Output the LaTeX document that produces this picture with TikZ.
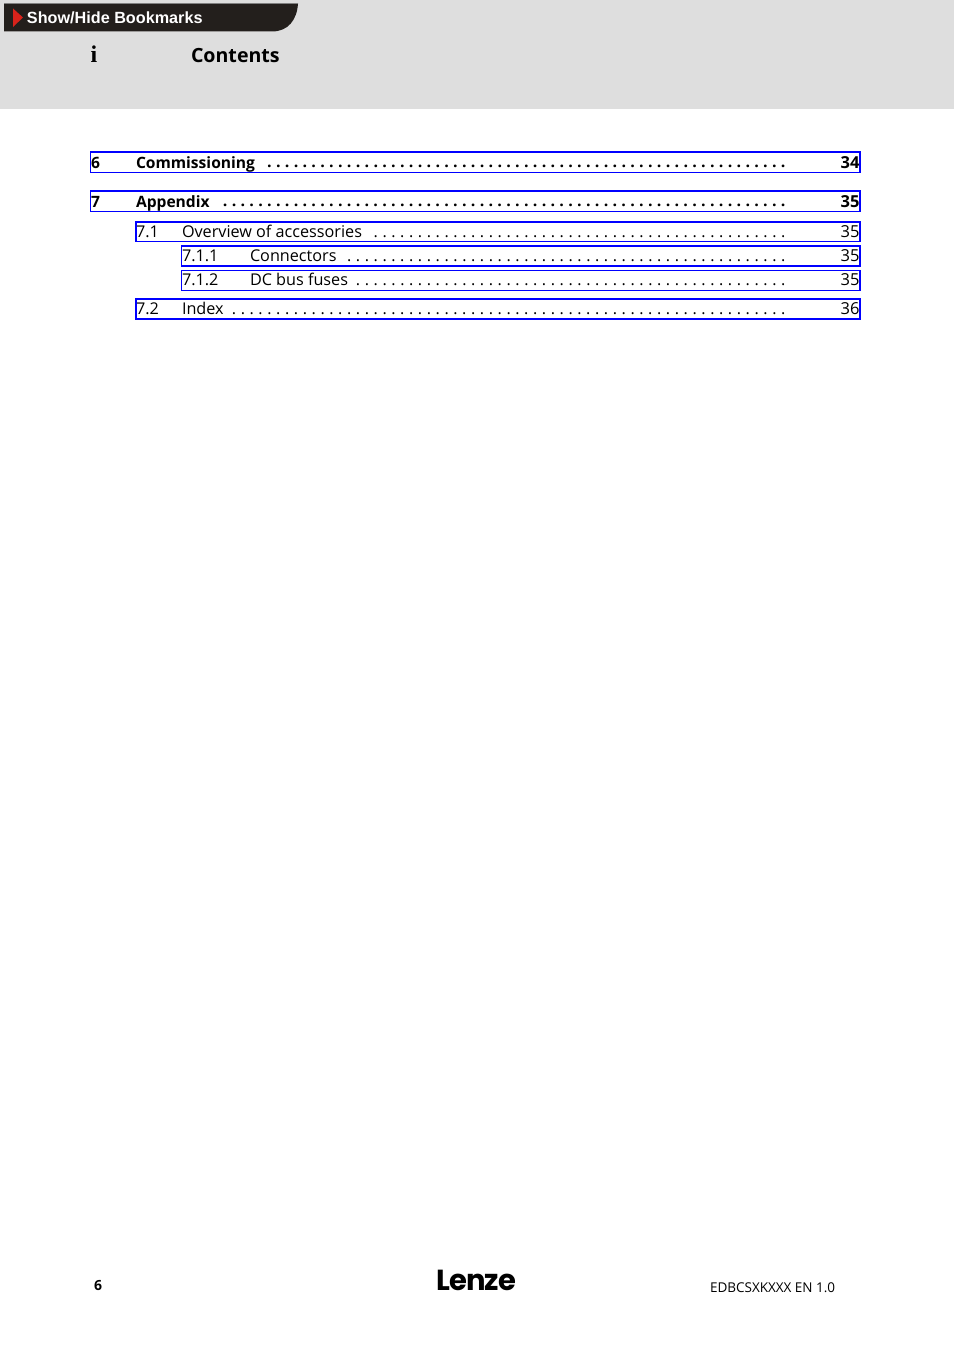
\documentclass[tikz,border=0pt]{standalone}
\usepackage{fontspec}
\setmainfont{Open Sans}
\newfontfamily\barfont{Liberation Sans}
\newfontfamily\ifont{Liberation Serif}
\newfontfamily\logofont{Poppins}[LetterSpace=-3.5]
\newcommand{\dotrow}[1]{\foreach \k in {1,...,#1}{\hbox to 8.86pt{\hss.\hss}}}
\tikzset{
 x=1pt,y=-1pt,
 txt/.style={anchor=base west,inner sep=0pt,outer sep=0pt,text=black},
 rt/.style={anchor=base east,inner sep=0pt,outer sep=0pt,text=black},
 hd/.style={txt,font=\fontsize{15.6}{17}\selectfont\bfseries},
 hdr/.style={rt,font=\fontsize{16.5}{17}\selectfont\bfseries},
 sb/.style={txt,font=\fontsize{16.2}{17}\selectfont},
 sbr/.style={rt,font=\fontsize{16.5}{17}\selectfont},
 lk/.style={draw=blue,line width=1.3pt},
 dots/.style={rt,font=\fontsize{16}{17}\selectfont},
 bdots/.style={rt,font=\fontsize{16}{17}\selectfont\bfseries},
}
\definecolor{band}{HTML}{DEDEDE}
\definecolor{bar}{HTML}{231F1C}
\definecolor{arrowred}{HTML}{D8231B}
\begin{document}
\begin{tikzpicture}
\useasboundingbox (0,0) rectangle (954,1351);
\fill[white] (0,0) rectangle (954,1351);
\fill[band] (0,0) rectangle (954,109);
\fill[bar] (4,3.5) -- (298,3.5) .. controls (297,20) and (288,31.5) .. (272,31.5) -- (4,31.5) -- cycle;
\draw[gray,line width=.7pt] (4,3.4) -- (298,3.4);
\fill[arrowred] (13,8.5) -- (23,17.5) -- (13,27) -- cycle;
\node[txt,text=white,font=\barfont\fontsize{16.2}{16}\selectfont\bfseries] (bm) at (27,23.2) {Show/Hide Bookmarks};
\node[txt,font=\ifont\fontsize{24}{24}\selectfont\bfseries] (itag) at (90.5,63) {i};
\node[txt,font=\fontsize{19.6}{21}\selectfont\bfseries] (title) at (191,62.2) {Contents};

\node[hd] (n6) at (91,168.7) {6};
\node[hd] (t6) at (136,168.7) {Commissioning};
\node[bdots] (d6) at (787.8,168) {\dotrow{59}};
\node[hdr] (p6) at (859.5,168.7) {34};
\node[hd] (n7) at (91,207.7) {7};
\node[hd] (t7) at (136,207.7) {Appendix};
\node[bdots] (d7) at (787.8,207) {\dotrow{64}};
\node[hdr] (p7) at (859.5,207.7) {35};
\node[sb] (n71) at (136,237) {7.1};
\node[sb] (t71) at (182,237) {Overview of accessories};
\node[dots] (d71) at (787.8,237) {\dotrow{47}};
\node[sbr] (p71) at (859.5,237) {35};
\node[sb] (n711) at (182,261) {7.1.1};
\node[sb] (t711) at (250,261) {Connectors};
\node[dots] (d711) at (787.8,261) {\dotrow{50}};
\node[sbr] (p711) at (859.5,261) {35};
\node[sb] (n712) at (182,285) {7.1.2};
\node[sb] (t712) at (250,285) {DC bus fuses};
\node[dots] (d712) at (787.8,285) {\dotrow{49}};
\node[sbr] (p712) at (859.5,285) {35};
\node[sb] (n72) at (136,314) {7.2};
\node[sb] (t72) at (182,314) {Index};
\node[dots] (d72) at (787.8,314) {\dotrow{63}};
\node[sbr] (p72) at (859.5,314) {36};

\draw[lk] (90.7,152) rectangle (860,172.3);
\draw[lk] (90.7,191) rectangle (860,211.3);
\draw[lk] (135.9,222) rectangle (860,241.3);
\draw[lk] (181.5,246) rectangle (860,266);
\draw[lk] (181.5,270.5) rectangle (860,290.3);
\draw[lk] (135.9,299) rectangle (860,319);

\node[txt,font=\fontsize{14}{14}\selectfont\bfseries] (pg) at (94,1290) {6};
\node[txt,font=\logofont\fontsize{29}{31}\selectfont\bfseries] (logo) at (436.5,1290) {Lenze};
\node[txt,font=\fontsize{13.5}{14}\selectfont] (doc) at (710,1292) {EDBCSXKXXX EN 1.0};
\end{tikzpicture}
\end{document}
